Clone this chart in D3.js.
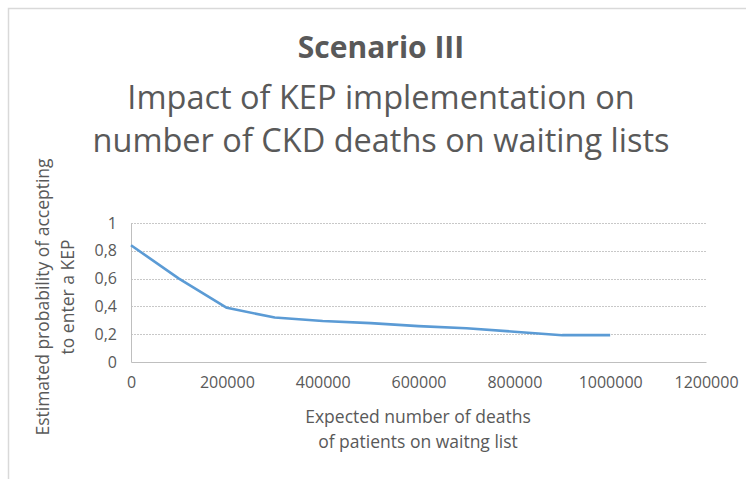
<!DOCTYPE html>
<html><head><meta charset="utf-8">
<script src="https://cdn.jsdelivr.net/npm/d3@7"></script>
<style>body{margin:0;background:#fff}svg{display:block}text{font-family:"Open Sans",sans-serif;fill:#595959}</style>
</head><body><svg id="c" width="746" height="479"></svg>
<script>
const xValues = [0,100000,200000,300000,400000,500000,600000,700000,800000,900000,1000000];
const yValues = [0.84,0.60,0.39,0.32,0.295,0.28,0.258,0.243,0.218,0.193,0.193];
const xTicks = [0,200000,400000,600000,800000,1000000,1200000];
const yTicks = [0,0.2,0.4,0.6,0.8,1];
const titleLines = ["Scenario III","Impact of KEP implementation on","number of CKD deaths on waiting lists"];
const yLabelLines = ["Estimated probability of accepting","to enter a KEP"];
const xLabelLines = ["Expected number of deaths","of patients on waitng list"];

const svg = d3.select("#c");
svg.append("rect").attr("x",8.5).attr("y",8.5).attr("width",800).attr("height",600)
  .attr("fill","none").attr("stroke","#d9d9d9").attr("stroke-width",1.5);

const x = d3.scaleLinear().domain([0,1200000]).range([131,706]);
const y = d3.scaleLinear().domain([0,1]).range([362,223]);

svg.append("g").selectAll("line").data(yTicks.filter(d=>d>0)).join("line")
  .attr("x1",x(0)).attr("x2",x(1200000)).attr("y1",d=>Math.round(y(d))+0.5).attr("y2",d=>Math.round(y(d))+0.5)
  .attr("stroke","#c8c8c8").attr("stroke-dasharray","2,1");

const fmtY = d => String(d).replace(".",",");
const gy = svg.append("g").attr("transform",`translate(${x(0)},0)`)
  .call(d3.axisLeft(y).tickValues(yTicks).tickFormat(fmtY).tickSize(0).tickPadding(14));
const gx = svg.append("g").attr("transform",`translate(0,${y(0)})`)
  .call(d3.axisBottom(x).tickValues(xTicks).tickFormat(d3.format("d")).tickSize(0).tickPadding(15));
[gy,gx].forEach(g=>{
  g.select(".domain").attr("stroke","#bfbfbf").attr("stroke-width",1);
  g.selectAll("text").style("font-family","'Open Sans',sans-serif").style("font-size","16px").attr("fill","#595959");
});
gx.select(".domain").attr("stroke-width",1.2);

const line = d3.line().x((d,i)=>x(xValues[i])).y(d=>y(d));
svg.append("path").datum(yValues).attr("d",line).attr("fill","none")
  .attr("stroke","#5b9bd5").attr("stroke-width",2.6).attr("stroke-linejoin","round");

const tY = [58,109,152];
titleLines.forEach((t,i)=>{
  svg.append("text").attr("x",381).attr("y",tY[i]).attr("text-anchor","middle")
    .style("font-size", i===0 ? "30px" : "32.5px").style("font-weight", i===0 ? "bold" : "normal").text(t);
});

yLabelLines.forEach((t,i)=>{
  svg.append("text").attr("transform",`translate(${49+i*25},297) rotate(-90)`).attr("text-anchor","middle")
    .style("font-size","17.5px").text(t);
});
xLabelLines.forEach((t,i)=>{
  svg.append("text").attr("x",418).attr("y",423+i*25).attr("text-anchor","middle")
    .style("font-size","17.5px").text(t);
});
</script></body></html>
